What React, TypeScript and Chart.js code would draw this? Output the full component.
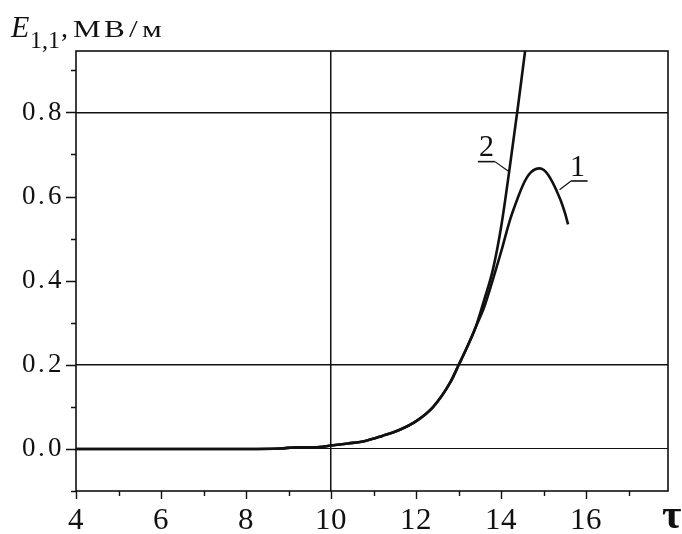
import React, { useEffect, useRef } from "react";
import { Chart, registerables } from "chart.js";

Chart.register(...registerables);

// ---- data ----
const tau1 = [4, 5, 6, 7, 8, 8.8, 9.2, 9.6, 10, 10.4, 10.8, 11.2, 11.6, 12, 12.4, 12.8, 13.0, 13.2, 13.4, 13.6, 13.8, 14.0, 14.2, 14.4, 14.5, 14.6, 14.7, 14.8, 14.9, 15.0, 15.1, 15.2, 15.3, 15.4, 15.5, 15.57];
const e1 = [0, 0, 0, 0, 0, 0.001, 0.004, 0.004, 0.008, 0.013, 0.019, 0.031, 0.045, 0.066, 0.1, 0.158, 0.2, 0.243, 0.29, 0.338, 0.402, 0.47, 0.543, 0.6, 0.625, 0.645, 0.658, 0.665, 0.667, 0.663, 0.652, 0.635, 0.614, 0.59, 0.56, 0.534];
const tau2 = [4, 5, 6, 7, 8, 8.8, 9.2, 9.6, 10, 10.4, 10.8, 11.2, 11.6, 12, 12.4, 12.8, 13.0, 13.2, 13.4, 13.6, 13.8, 14.0, 14.2, 14.4, 14.56];
const e2 = [0, 0, 0, 0, 0, 0.001, 0.004, 0.004, 0.008, 0.013, 0.019, 0.031, 0.045, 0.066, 0.1, 0.158, 0.2, 0.243, 0.29, 0.355, 0.425, 0.53, 0.67, 0.82, 0.946];

const xTickLabels = ["4", "6", "8", "10", "12", "14", "16"];
const yTickLabels = ["0.0", "0.2", "0.4", "0.6", "0.8"];
const xMin = 4;
const xMax = 17.92;
const yMin = -0.1;
const yMax = 0.946;
const xGridValues = [10];
const yGridValues = [0.8, 0.2, 0.0];

const curveNames = ["2", "1"];
// label anchors in data units: text position, underline, leader line
const labelText = [[13.65, 0.696], [15.8, 0.648]];
const labelUnderline = [[13.45, 13.85, 0.683], [15.64, 16.03, 0.637]];
const labelLeader = [[[13.85, 0.683], [14.16, 0.661]], [[15.37, 0.616], [15.64, 0.637]]];

const INK = "#111";
const SERIF = "RefSerif, 'Liberation Serif', 'DejaVu Serif', serif";

const FONT_CSS = `
@font-face{font-family:'RefSerif';font-style:normal;font-weight:400;src:local('Liberation Serif'),local('LiberationSerif'),local('LiberationSerif-Regular');}
@font-face{font-family:'RefSerif';font-style:italic;font-weight:400;src:local('Liberation Serif Italic'),local('LiberationSerif-Italic');}
@font-face{font-family:'RefSerif';font-style:normal;font-weight:700;src:local('Liberation Serif Bold'),local('LiberationSerif-Bold');}
`;

const near = (a: number, b: number) => Math.abs(a - b) < 1e-6;

const decorPlugin = {
  id: "decor",
  afterDatasetsDraw(chart: any) {
    // y tick labels (z:1) are drawn after this hook; give them wider spacing
    (chart.ctx as any).letterSpacing = "2.5px";
  },
  afterDraw(chart: any) {
    const ctx = chart.ctx as any;
    ctx.letterSpacing = "0px";
    const a = chart.chartArea;
    const x = chart.scales.x;
    const y = chart.scales.y;
    ctx.save();
    ctx.strokeStyle = INK;
    ctx.fillStyle = INK;
    // frame
    ctx.lineWidth = 1.6;
    ctx.strokeRect(a.left, a.top, a.right - a.left, a.bottom - a.top);
    // ticks
    ctx.lineWidth = 1.4;
    ctx.beginPath();
    for (let v = 4; v <= 17; v++) {
      const px = Math.round(x.getPixelForValue(v)) + 0.5;
      const len = v % 2 === 0 ? 8 : 5;
      ctx.moveTo(px, a.bottom);
      ctx.lineTo(px, a.bottom + len);
    }
    for (let i = -1; i <= 9; i++) {
      const py = Math.round(y.getPixelForValue(i / 10)) + 0.5;
      const len = i % 2 === 0 ? 10 : 5;
      ctx.moveTo(a.left - len, py);
      ctx.lineTo(a.left, py);
    }
    ctx.stroke();

    // curve labels
    ctx.font = `30px ${SERIF}`;
    ctx.textAlign = "center";
    ctx.textBaseline = "alphabetic";
    curveNames.forEach((name, i) => {
      const [tx, ty] = labelText[i];
      ctx.fillText(name, x.getPixelForValue(tx), y.getPixelForValue(ty));
      const [u0, u1, uy] = labelUnderline[i];
      ctx.lineWidth = 1.6;
      ctx.beginPath();
      ctx.moveTo(x.getPixelForValue(u0), y.getPixelForValue(uy));
      ctx.lineTo(x.getPixelForValue(u1), y.getPixelForValue(uy));
      ctx.stroke();
      const [[l0x, l0y], [l1x, l1y]] = labelLeader[i];
      ctx.lineWidth = 1.2;
      ctx.beginPath();
      ctx.moveTo(x.getPixelForValue(l0x), y.getPixelForValue(l0y));
      ctx.lineTo(x.getPixelForValue(l1x), y.getPixelForValue(l1y));
      ctx.stroke();
    });

    // axis title (top-left)
    ctx.textAlign = "left";
    ctx.font = `italic 30px ${SERIF}`;
    ctx.fillText("E", 11, 37);
    ctx.font = `24px ${SERIF}`;
    ctx.fillText("1,1", 30, 48);
    ctx.font = `28px ${SERIF}`;
    ctx.fillText(",", 61, 37);
    ctx.save();
    ctx.translate(73, 37);
    ctx.scale(1.3, 1);
    ctx.font = `24px ${SERIF}`;
    ctx.letterSpacing = "3px";
    ctx.fillText("МВ/м", 0, 0);
    ctx.restore();
    ctx.letterSpacing = "0px";

    // x axis title
    ctx.font = `bold 42px ${SERIF}`;
    ctx.fillText("τ", 662, 528);
    ctx.restore();
  },
};

export default function App() {
  const ref = useRef<HTMLCanvasElement | null>(null);

  useEffect(() => {
    if (!ref.current) return;
    const ds = (lbl: string, xs: number[], ys: number[]) => ({
      label: lbl,
      data: xs.map((t, i) => ({ x: t, y: ys[i] })),
      borderColor: INK,
      borderWidth: 2.6,
      pointRadius: 0,
      fill: false,
      cubicInterpolationMode: "monotone",
    });
    const chart = new Chart(ref.current, {
      type: "line",
      data: { datasets: [ds("1", tau1, e1), ds("2", tau2, e2)] },
      options: {
        animation: false,
        responsive: false,
        maintainAspectRatio: false,
        layout: { padding: { top: 51, right: 14, left: 0, bottom: 0 } },
        plugins: { legend: { display: false }, tooltip: { enabled: false }, title: { display: false } },
        scales: {
          x: {
            type: "linear",
            min: xMin,
            max: xMax,
            afterFit: (s: any) => {
              s.height = 43;
            },
            border: { display: false },
            grid: {
              drawTicks: false,
              color: (c: any) => (xGridValues.some((g) => near(c.tick.value, g)) ? INK : "rgba(0,0,0,0)"),
              lineWidth: 1.5,
            },
            ticks: {
              stepSize: 1,
              includeBounds: false,
              autoSkip: false,
              maxRotation: 0,
              padding: 11,
              color: INK,
              font: { family: SERIF, size: 31 },
              callback: (v: any) => {
                const s = String(Math.round(Number(v)));
                return near(Number(v), Math.round(Number(v))) && xTickLabels.includes(s) ? s : "";
              },
            },
          },
          y: {
            type: "linear",
            min: yMin,
            max: yMax,
            afterFit: (s: any) => {
              s.width = 76;
            },
            border: { display: false },
            grid: {
              drawTicks: false,
              color: (c: any) => (yGridValues.some((g) => near(c.tick.value, g)) ? INK : "rgba(0,0,0,0)"),
              lineWidth: (c: any) => (near(c.tick.value, 0) ? 1 : 1.6),
            },
            ticks: {
              z: 1,
              stepSize: 0.1,
              includeBounds: false,
              autoSkip: false,
              padding: 12,
              color: INK,
              font: { family: SERIF, size: 27 },
              callback: (v: any) => {
                const s = (Math.round(Number(v) * 10) / 10).toFixed(1);
                return yTickLabels.includes(s) ? s : "";
              },
            },
          },
        },
      },
      plugins: [decorPlugin],
    } as any);
    let alive = true;
    const fonts: any = (document as any).fonts;
    if (fonts && fonts.load) {
      Promise.all([
        fonts.load(`25px RefSerif`),
        fonts.load(`italic 30px RefSerif`),
        fonts.load(`bold 42px RefSerif`),
      ])
        .catch(() => null)
        .then(() => {
          if (alive) chart.update();
        });
    }
    return () => {
      alive = false;
      chart.destroy();
    };
  }, []);

  return (
    <div style={{ position: "absolute", left: 0, top: 0, width: 682, height: 534, background: "#fff" }}>
      <style>{FONT_CSS}</style>
      <canvas ref={ref} width={682} height={534} style={{ display: "block", width: 682, height: 534 }} />
    </div>
  );
}
